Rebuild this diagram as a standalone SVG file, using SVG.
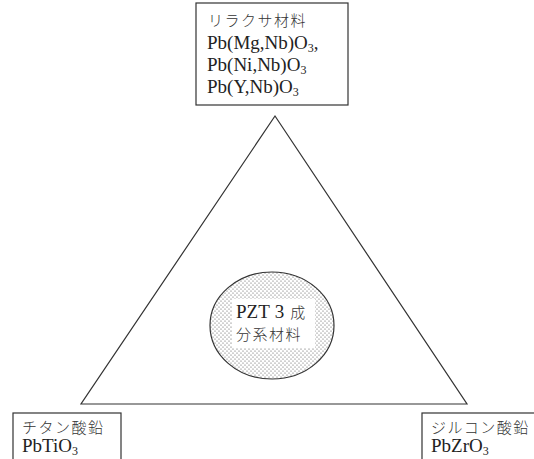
<svg xmlns="http://www.w3.org/2000/svg" width="534" height="459" viewBox="0 0 534 459">
<style>
.box{fill:#fff;stroke:#333;stroke-width:1.2}
.edge{fill:none;stroke:#333;stroke-width:1.2}
.t{font-family:"Liberation Serif","Noto Sans CJK JP",serif;font-size:19px;fill:#222}
.jp{font-family:"Noto Sans CJK JP","Liberation Serif",sans-serif;font-size:15px;fill:#333;font-weight:300;letter-spacing:1.5px}
.sub{font-size:12px}
</style>
<defs>
<pattern id="dots" width="4" height="4" patternUnits="userSpaceOnUse">
<rect width="4" height="4" fill="#fff"/>
<circle cx="1" cy="1" r="0.6" fill="#555"/>
<circle cx="3" cy="3" r="0.6" fill="#555"/>
</pattern>
</defs>
<rect width="534" height="459" fill="#fff"/>
<g id="connectors">
<polygon class="edge" points="275,116 81,404 467,404"/>
</g>
<g id="relaxor">
<rect class="box" x="196" y="3" width="152" height="102"/>
<text class="jp" x="208" y="26" font-size="16" letter-spacing="2.5">リラクサ材料</text>
<text class="t" x="207" y="49">Pb(Mg,Nb)O<tspan class="sub" dy="3">3</tspan><tspan dy="-3">,</tspan></text>
<text class="t" x="207" y="71">Pb(Ni,Nb)O<tspan class="sub" dy="3">3</tspan></text>
<text class="t" x="207" y="93">Pb(Y,Nb)O<tspan class="sub" dy="3">3</tspan></text>
</g>
<g id="pzt">
<ellipse cx="272" cy="325.5" rx="62" ry="53.5" fill="url(#dots)" stroke="#333" stroke-width="1.2"/>
<rect x="232" y="299" width="83" height="49" fill="#fff"/>
<text class="t" x="236" y="318" font-size="20">PZT<tspan dx="5">3</tspan><tspan class="jp" dx="6" font-size="17" letter-spacing="0">成</tspan></text>
<text class="jp" x="236" y="340" font-size="16" letter-spacing="0.6">分系材料</text>
</g>
<g id="pbtio3">
<rect class="box" x="13" y="413" width="108" height="60"/>
<text class="jp" x="22" y="433">チタン酸鉛</text>
<text class="t" x="22" y="452">PbTiO<tspan class="sub" dy="2.5">3</tspan></text>
</g>
<g id="pbzro3">
<rect class="box" x="422" y="413" width="130" height="60"/>
<text class="jp" x="431" y="433">ジルコン酸鉛</text>
<text class="t" x="431" y="452">PbZrO<tspan class="sub" dy="2.5">3</tspan></text>
</g>
</svg>
